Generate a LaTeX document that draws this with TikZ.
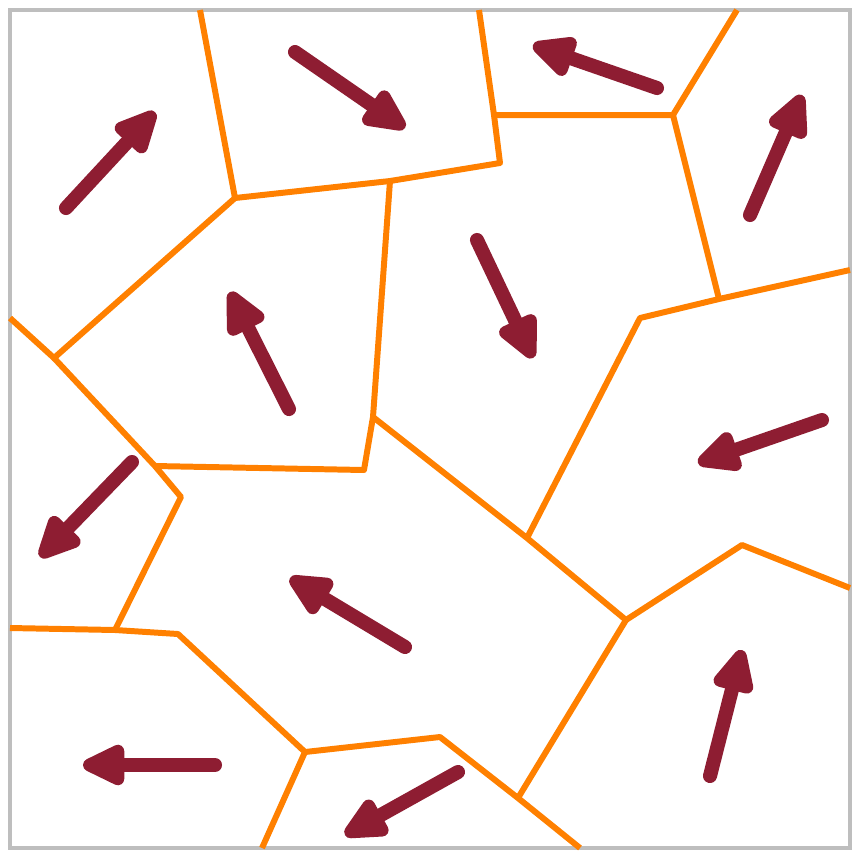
\documentclass[tikz,border=0pt]{standalone}
\usetikzlibrary{arrows.meta}
\definecolor{wallorange}{RGB}{255,128,0}
\definecolor{flowred}{RGB}{142,29,50}
\definecolor{framegray}{RGB}{190,190,190}

\begin{document}
\begin{tikzpicture}[x=0.01cm, y=-0.01cm,
  wall/.style={draw=wallorange, line width=1.7pt, line join=round},
  flow/.style={draw=flowred, line width=4pt, line cap=round,
    -{Triangle[length=14.5pt,width=12.5pt,round]}}]
  \useasboundingbox (0,0) rectangle (853,853);

  % Frame
  \draw[framegray, line width=1.3pt] (10,10) rectangle (850,848);

  % Cell corners
  \coordinate (A) at (235,198);
  \coordinate (B) at (390,181);
  \coordinate (C) at (500,163);
  \coordinate (D) at (494,115);
  \coordinate (E) at (673,115);
  \coordinate (F) at (719,299);
  \coordinate (G) at (640,318);
  \coordinate (H) at (527,538);
  \coordinate (I) at (54,358);
  \coordinate (J) at (155,466);
  \coordinate (K) at (364,470);
  \coordinate (L) at (373,417);
  \coordinate (M) at (626,620);
  \coordinate (N) at (742,545);
  \coordinate (O) at (518,798);
  \coordinate (P) at (440,737);
  \coordinate (Q) at (305,752);
  \coordinate (R) at (178,634);
  \coordinate (S) at (115,630);
  \coordinate (T) at (181,497);

  % Border ends
  \coordinate (top1) at (200,10);
  \coordinate (top2) at (479,10);
  \coordinate (top3) at (737,10);
  \coordinate (left1) at (10,318);
  \coordinate (left2) at (10,628);
  \coordinate (right1) at (850,270);
  \coordinate (right2) at (850,588);
  \coordinate (bot1) at (262,848);
  \coordinate (bot2) at (580,848);

  % Walls
  \draw[wall] (top1) -- (A) -- (B) -- (C) -- (D) -- (top2);
  \draw[wall] (D) -- (E) -- (top3);
  \draw[wall] (E) -- (F) -- (right1);
  \draw[wall] (F) -- (G) -- (H);
  \draw[wall] (L) -- (H) -- (M);
  \draw[wall] (left1) -- (I) -- (A);
  \draw[wall] (I) -- (J) -- (K) -- (L) -- (B);
  \draw[wall] (J) -- (T) -- (S);
  \draw[wall] (left2) -- (S) -- (R) -- (Q) -- (bot1);
  \draw[wall] (M) -- (N) -- (right2);
  \draw[wall] (M) -- (O) -- (bot2);
  \draw[wall] (O) -- (P) -- (Q);

  % Arrows
  \coordinate (a1) at (66,208);   \coordinate (b1) at (155,112);
  \coordinate (a2) at (295,52);   \coordinate (b2) at (405,128);
  \coordinate (a3) at (657,88);   \coordinate (b3) at (533,45);
  \coordinate (a4) at (750,215);  \coordinate (b4) at (802,95);
  \coordinate (a5) at (477,240);  \coordinate (b5) at (533,358);
  \coordinate (a6) at (289,409);  \coordinate (b6) at (230,292);
  \coordinate (a7) at (822,420);  \coordinate (b7) at (698,463);
  \coordinate (a8) at (132,462);  \coordinate (b8) at (40,557);
  \coordinate (a9) at (405,647);  \coordinate (b9) at (290,578);
  \coordinate (a10) at (710,776); \coordinate (b10) at (742,650);
  \coordinate (a11) at (215,765); \coordinate (b11) at (83,765);
  \coordinate (a12) at (458,772); \coordinate (b12) at (345,835);
  \foreach \i in {1,...,12}
    \draw[flow] (a\i) -- (b\i);
\end{tikzpicture}
\end{document}
